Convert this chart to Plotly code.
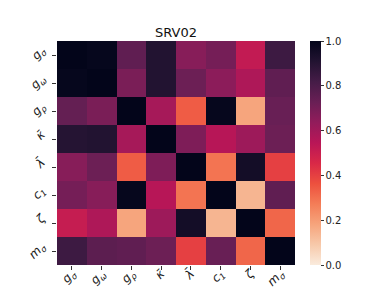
import plotly.graph_objects as go

labels = ["g<sub>σ</sub>", "g<sub>ω</sub>", "g<sub>ρ</sub>", "κ̄", "λ̄", "c<sub>1</sub>", "ζ", "m<sub>σ</sub>"]
row_gs = [1.00, 0.99, 0.75, 0.91, 0.66, 0.70, 0.52, 0.84]
row_gw = [0.99, 1.00, 0.69, 0.91, 0.72, 0.65, 0.57, 0.75]
row_gr = [0.74, 0.69, 1.00, 0.59, 0.34, 0.99, 0.18, 0.73]
row_k  = [0.90, 0.91, 0.59, 1.00, 0.68, 0.55, 0.61, 0.72]
row_l  = [0.66, 0.72, 0.34, 0.68, 1.00, 0.29, 0.95, 0.40]
row_c1 = [0.70, 0.66, 0.99, 0.55, 0.29, 1.00, 0.14, 0.75]
row_z  = [0.51, 0.57, 0.18, 0.61, 0.95, 0.14, 1.00, 0.32]
row_ms = [0.84, 0.76, 0.75, 0.72, 0.40, 0.73, 0.32, 1.00]
z = [row_gs, row_gw, row_gr, row_k, row_l, row_c1, row_z, row_ms]

rocket = ["#03051A", "#221331", "#451c47", "#691f55", "#921c5b", "#b91657",
          "#d92847", "#ed503e", "#f47d57", "#f6a47c", "#f7c9aa", "#FAEBDD"]
n = len(rocket)
rocket_r = [[i / (n - 1), c] for i, c in enumerate(reversed(rocket))]

fig = go.Figure(go.Heatmap(
    z=z, x=list(range(8)), y=list(range(8)),
    zmin=0, zmax=1, colorscale=rocket_r,
    colorbar=dict(
        thickness=11, len=1.0, lenmode="fraction", y=0.5, yanchor="middle",
        x=1.065, xanchor="left", xpad=0, ypad=0, outlinewidth=0,
        ticks="outside", ticklen=3, tickcolor="#333",
        tickvals=[0, 0.2, 0.4, 0.6, 0.8, 1.0], ticktext=["0.0", "0.2", "0.4", "0.6", "0.8", "1.0"],
        tickfont=dict(family="DejaVu Sans", size=10, color="#222"),
    ),
))

fig.update_xaxes(
    tickvals=list(range(8)), ticktext=labels, tickangle=-45, automargin=False,
    ticks="outside", ticklen=4, tickcolor="#333", ticklabelstandoff=-8, ticklabelshift=0,
    tickfont=dict(family="DejaVu Sans", size=12, color="#222", style="italic"),
    showgrid=False, zeroline=False,
)
fig.update_yaxes(
    tickvals=list(range(8)), ticktext=labels, tickangle=-45, autorange="reversed", automargin=False,
    ticks="outside", ticklen=4, tickcolor="#333", ticklabelstandoff=8, ticklabelshift=6,
    tickfont=dict(family="DejaVu Sans", size=12, color="#222", style="italic"),
    showgrid=False, zeroline=False,
)

fig.update_layout(
    width=385, height=288,
    margin=dict(l=49, r=98, t=33, b=31),
    title=dict(text="SRV02", x=168 / 385, xanchor="center", y=1 - 24 / 288, yanchor="middle",
               font=dict(family="DejaVu Sans", size=13, color="#111")),
    plot_bgcolor="white", paper_bgcolor="white",
)

fig.write_html("out.html")
